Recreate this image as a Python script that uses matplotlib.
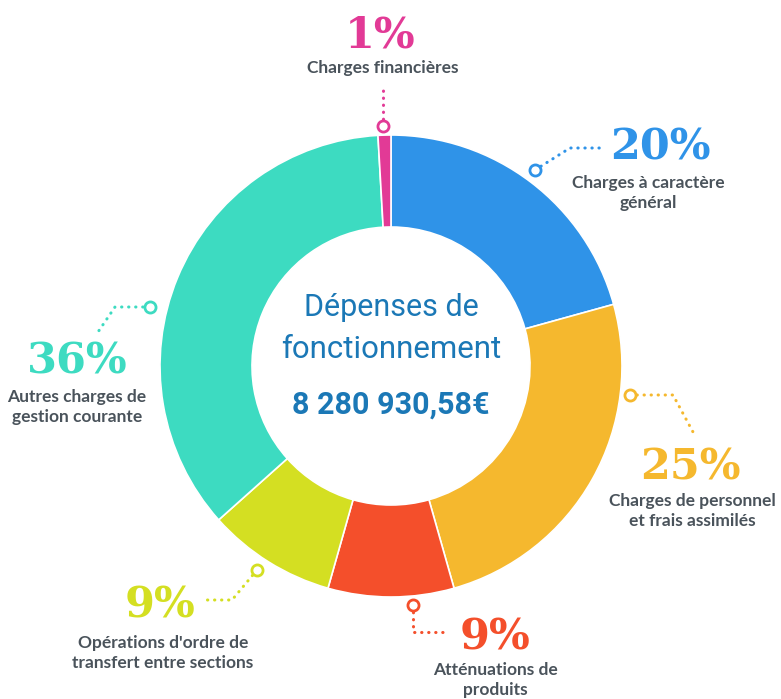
import matplotlib
matplotlib.use("Agg")
import matplotlib.pyplot as plt
import numpy as np

# chart data
categories = [
    "Charges à caractère\ngénéral",
    "Charges de personnel\net frais assimilés",
    "Atténuations de\nproduits",
    "Opérations d'ordre de\ntransfert entre sections",
    "Autres charges de\ngestion courante",
    "Charges financières",
]
shares = [20.7, 24.9, 8.8, 9.0, 35.7, 0.9]
pct_labels = ["20%", "25%", "9%", "9%", "36%", "1%"]
colors = ["#2f93e8", "#f5b82e", "#f44f2b", "#d4df22", "#3ddbc1", "#e23a96"]
total_label = "8 280 930,58€"

W, H = 781, 699
CX, CY = 391, 366


def p(x, y):
    # pixel coords (y down) -> axes data coords (y up)
    return x, H - y


fig = plt.figure(figsize=(W / 100, H / 100), dpi=100)
ax = fig.add_axes([0, 0, 1, 1])

ax.pie(shares, colors=colors, startangle=90, counterclock=False,
       center=p(CX, CY), radius=231,
       wedgeprops=dict(width=92, edgecolor="white", linewidth=1.2))
ax.set_xlim(0, W)
ax.set_ylim(0, H)
ax.set_aspect("equal")
ax.axis("off")

# centre text
blue_txt = "#1b78b6"
ax.text(*p(CX, 308), "Dépenses de", ha="center", va="center", fontsize=22,
        color=blue_txt, family="Roboto")
ax.text(*p(CX, 350), "fonctionnement", ha="center", va="center", fontsize=22.5,
        color=blue_txt, family="Roboto")
ax.text(*p(CX, 405), total_label, ha="center", va="center", fontsize=22,
        color=blue_txt, family="Roboto", weight="bold")

# label layout: percent position, label position, leader path (circle first)
layout = [
    ((660, 147), (648, 193), [(535, 170), (570, 148), (605, 148)]),
    ((690, 467), (692, 511), [(630, 395), (673, 395), (693, 432)]),
    ((495, 637), (495, 680), [(413, 605), (413, 632), (445, 632)]),
    ((160, 605), (163, 653), [(257, 570), (232, 600), (205, 600)]),
    ((77, 362), (77, 407), [(150, 307), (115, 307), (98, 332)]),
    ((380, 35), (383, 68), [(383, 126), (383, 88)]),
]

gray = "#4a535b"
for cat, pct, col, (pp, lp, path) in zip(categories, pct_labels, colors, layout):
    ax.text(*p(*pp), pct, ha="center", va="center", fontsize=31,
            color=col, family="DejaVu Serif", weight="bold")
    ax.text(*p(*lp), cat, ha="center", va="center", fontsize=12.5,
            color=gray, family="Lato", weight="bold", linespacing=1.25)
    xs, ys = zip(*[p(*pt) for pt in path])
    ax.plot(xs, ys, color=col, lw=2.2, linestyle=(0, (0.1, 2.2)),
            dash_capstyle="round", solid_capstyle="round")
    ax.plot(xs[0], ys[0], marker="o", ms=8, mfc="white", mec=col, mew=2)

fig.savefig("out.png", dpi=100)
plt.close(fig)
